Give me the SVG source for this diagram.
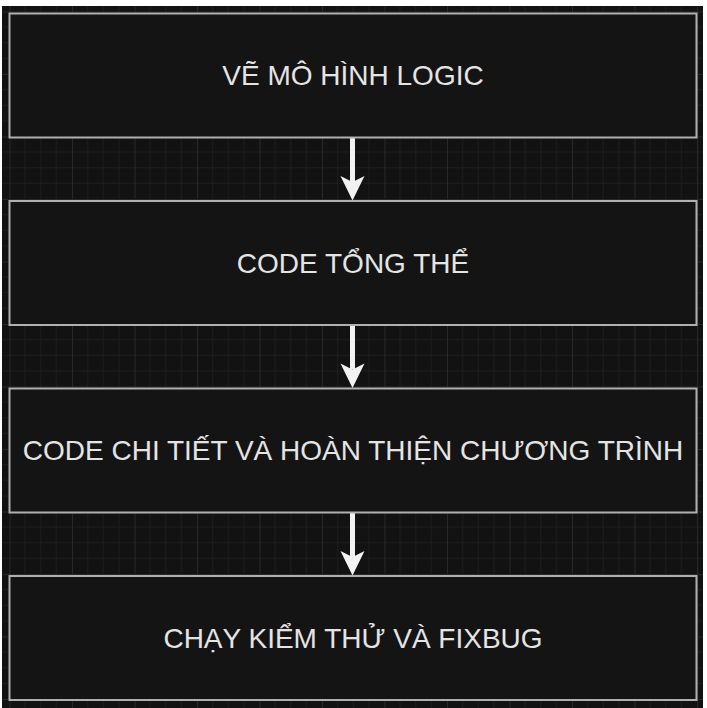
<svg xmlns="http://www.w3.org/2000/svg" width="707" height="708" viewBox="0 0 707 708">
  <style>
    .box { fill: #141414; stroke: #b0b0b0; stroke-width: 2; }
    .label { font-family: "Liberation Sans", Arial, sans-serif; font-size: 28px; fill: #e4e4e4; text-anchor: middle; }
    .edge { stroke: #f2f2f2; stroke-width: 5; fill: none; }
    .head { fill: #f2f2f2; }
  </style>
  <defs>
    <pattern id="grid" patternUnits="userSpaceOnUse" x="9.5" y="11.5" width="62.5" height="62.5">
      <rect width="62.5" height="62.5" fill="#121212"/>
      <g stroke="#1d1d1d" stroke-width="1">
        <line x1="15.625" y1="0" x2="15.625" y2="62.5"/>
        <line x1="31.25" y1="0" x2="31.25" y2="62.5"/>
        <line x1="46.875" y1="0" x2="46.875" y2="62.5"/>
        <line x1="0" y1="15.625" x2="62.5" y2="15.625"/>
        <line x1="0" y1="31.25" x2="62.5" y2="31.25"/>
        <line x1="0" y1="46.875" x2="62.5" y2="46.875"/>
      </g>
      <g stroke="#282828" stroke-width="1">
        <line x1="0.5" y1="0" x2="0.5" y2="62.5"/>
        <line x1="0" y1="0.5" x2="62.5" y2="0.5"/>
      </g>
    </pattern>
  </defs>
  <rect x="0" y="0" width="707" height="708" fill="#ffffff"/>
  <rect x="2" y="6" width="701" height="702" fill="url(#grid)"/>

  <g id="connectors">
    <g id="edge1">
      <line class="edge" x1="352.5" y1="137" x2="352.5" y2="182"/>
      <path class="head" d="M352.5,200.5 L340.5,176 L352.5,182 L364.5,176 Z"/>
    </g>
    <g id="edge2">
      <line class="edge" x1="352.5" y1="324.5" x2="352.5" y2="369.5"/>
      <path class="head" d="M352.5,388 L340.5,363.5 L352.5,369.5 L364.5,363.5 Z"/>
    </g>
    <g id="edge3">
      <line class="edge" x1="352.5" y1="512" x2="352.5" y2="557"/>
      <path class="head" d="M352.5,575.5 L340.5,551 L352.5,557 L364.5,551 Z"/>
    </g>
  </g>

  <g id="node1">
    <rect class="box" x="9.5" y="13.5" width="687" height="124"/>
    <text class="label" x="353" y="85">VẼ MÔ HÌNH LOGIC</text>
  </g>
  <g id="node2">
    <rect class="box" x="9.5" y="201" width="687" height="124"/>
    <text class="label" x="353" y="272.5">CODE TỔNG THỂ</text>
  </g>
  <g id="node3">
    <rect class="box" x="9.5" y="388.5" width="687" height="124"/>
    <text class="label" x="353" y="460">CODE CHI TIẾT VÀ HOÀN THIỆN CHƯƠNG TRÌNH</text>
  </g>
  <g id="node4">
    <rect class="box" x="9.5" y="576" width="687" height="124"/>
    <text class="label" x="353" y="647.5">CHẠY KIỂM THỬ VÀ FIXBUG</text>
  </g>
</svg>
